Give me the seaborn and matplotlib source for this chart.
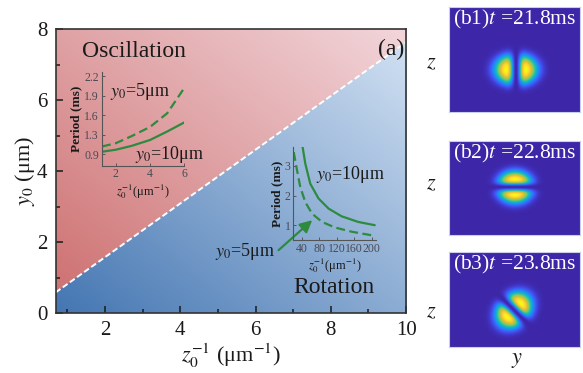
import numpy as np
import pandas as pd
import matplotlib
matplotlib.use("Agg")
import matplotlib.pyplot as plt
import seaborn as sns
from matplotlib.colors import LinearSegmentedColormap

# ---------------- data ----------------
main_xlim = [0.69, 10.0]
main_ylim = [0.0, 8.0]
boundary_x = [0.69, 10.0]
boundary_y = [0.58, 7.64]

osc_x = [1.2, 2.0, 2.93, 4.0, 5.0, 6.0]
osc_y5 = [1.12, 1.17, 1.28, 1.42, 1.63, 2.02]
osc_y10 = [1.04, 1.07, 1.13, 1.22, 1.35, 1.49]
osc_yticks = [1.0, 1.3, 1.6, 1.9, 2.2]
osc_yticklabels = ["0.9", "1.3", "1.6", "1.9", "2.2"]
osc_xticks = [2, 4, 6]

rot_x10 = [41.4, 47.5, 59, 78, 101, 131, 169, 207]
rot_y10 = [3.64, 3.08, 2.40, 1.90, 1.56, 1.30, 1.11, 1.00]
rot_x5 = [21, 28.6, 36, 47.5, 63, 86, 116, 154, 207]
rot_y5 = [3.47, 2.85, 2.29, 1.78, 1.39, 1.11, 0.92, 0.78, 0.64]
rot_xticks = [40, 80, 120, 160, 200]
rot_yticks = [1, 2, 3]

panel_titles = [r"(b1)$t$ =21.8ms", r"(b2)$t$ =22.8ms", r"(b3)$t$ =23.8ms"]
panel_angles = [0.0, 90.0, 45.0]          # dipole axis orientation (deg)
panel_a = [20.0, 15.0, 19.0]              # size along dipole axis
panel_b = [15.0, 17.0, 15.0]              # size across dipole axis
panel_node = [6.0, 5.0, 6.0]              # node width
panel_cy = [1.0, 0.0, -1.0]               # blob centre offsets
panel_cz = [-10.0, 1.0, -11.0]

# ---------------- style ----------------
sns.set_theme(style="ticks")
plt.rcParams["font.family"] = ["Liberation Serif", "DejaVu Serif"]
plt.rcParams["mathtext.fontset"] = "stix"
plt.rcParams["axes.unicode_minus"] = False

green = "#2e8b3e"
dark = "#1a1a1a"

fig = plt.figure(figsize=(5.83, 3.73), dpi=100)

# ---------------- main axes ----------------
ax = fig.add_axes([0.0955, 0.161, 0.601, 0.760])
nx, ny = 400, 340
gx = np.linspace(main_xlim[0], main_xlim[1], nx)
gy = np.linspace(main_ylim[0], main_ylim[1], ny)
GX, GY = np.meshgrid(gx, gy)
bnd = np.interp(GX, boundary_x, boundary_y)
tx = (GX - main_xlim[0]) / (main_xlim[1] - main_xlim[0])
ty = (GY - main_ylim[0]) / (main_ylim[1] - main_ylim[0])
t = np.clip(0.5 * tx + 0.5 * ty, 0, 1)[..., None]
red0 = np.array([205, 110, 110]) / 255
red1 = np.array([242, 214, 219]) / 255
blu0 = np.array([68, 118, 178]) / 255
blu1 = np.array([212, 227, 244]) / 255
redc = red0 * (1 - t) + red1 * t
bluc = blu0 * (1 - t) + blu1 * t
img = np.where((GY > bnd)[..., None], redc, bluc)
ax.imshow(img, origin="lower", extent=main_xlim + main_ylim, aspect="auto",
          interpolation="bilinear", zorder=0)

bdf = pd.DataFrame({"x": boundary_x, "y": boundary_y})
sns.lineplot(data=bdf, x="x", y="y", ax=ax, color="white", lw=1.4,
             linestyle=(0, (3, 1.5)), zorder=2)
ax.set_xlim(main_xlim)
ax.set_ylim(main_ylim)
ax.set_xticks([2, 4, 6, 8, 10])
ax.set_yticks([0, 2, 4, 6, 8])
ax.set_xticks([1, 3, 5, 7, 9], minor=True)
ax.set_yticks([1, 3, 5, 7], minor=True)
ax.tick_params(which="both", direction="in", colors=dark, labelsize=15,
               width=1.1, top=False, right=False)
ax.tick_params(which="major", length=5, pad=6)
ax.tick_params(which="minor", length=3)
for s in ax.spines.values():
    s.set_color("#333333")
    s.set_linewidth(1.2)
ax.set_xlabel(r"$z_0^{-1}$ (μm$^{-1}$)", fontsize=16, color=dark, labelpad=1)
ax.set_ylabel(r"$y_0$ (μm)", fontsize=16, color=dark, labelpad=0)

ax.text(1.39, 7.37, "Oscillation", fontsize=17, color=dark, va="center", ha="left")
ax.text(9.95, 7.43, "(a)", fontsize=17, color=dark, va="center", ha="right")
ax.text(7.01, 0.73, "Rotation", fontsize=17, color=dark, va="center", ha="left")
ax.text(2.13, 6.24, r"$y_0$=5μm", fontsize=13, color=dark, va="center", ha="left")
ax.text(2.8, 4.46, r"$y_0$=10μm", fontsize=13, color=dark, va="center", ha="left")
ax.text(7.6, 3.9, r"$y_0$=10μm", fontsize=13, color=dark, va="center", ha="left")
ax.text(4.93, 1.72, r"$y_0$=5μm", fontsize=13, color=dark, va="center", ha="left")

inset_tick = "#4a4a55"

# ---------------- inset 1 (oscillation) ----------------
a1 = fig.add_axes([0.1744, 0.5558, 0.1417, 0.252])
a1.patch.set_alpha(0)
odf = pd.DataFrame({"x": osc_x * 2, "y": osc_y5 + osc_y10,
                    "s": ["5"] * len(osc_x) + ["10"] * len(osc_x)})
sns.lineplot(data=odf, x="x", y="y", style="s", ax=a1, color=green, lw=1.6,
             dashes={"5": (4, 2), "10": ""}, legend=False)
a1.set_xlim(1.18, 6.0)
a1.set_ylim(0.825, 2.27)
a1.set_xticks(osc_xticks)
a1.set_yticks(osc_yticks)
a1.set_yticklabels(osc_yticklabels)
a1.tick_params(direction="in", length=2, width=0.6, labelsize=8.5,
               colors=inset_tick, pad=2)
a1.spines[["top", "right"]].set_visible(False)
for s in ["left", "bottom"]:
    a1.spines[s].set_color("#555555")
    a1.spines[s].set_linewidth(0.8)
a1.set_xlabel(r"$z_0^{-1}$(μm$^{-1}$)", fontsize=9, color=dark, labelpad=1)
a1.set_ylabel("Period (ms)", fontsize=9.5, fontweight="bold", color=dark, labelpad=1)

# ---------------- inset 2 (rotation) ----------------
a2 = fig.add_axes([0.5031, 0.3566, 0.1419, 0.250])
a2.patch.set_alpha(0)
rdf = pd.DataFrame({"x": rot_x5 + rot_x10, "y": rot_y5 + rot_y10,
                    "s": ["5"] * len(rot_x5) + ["10"] * len(rot_x10)})
sns.lineplot(data=rdf, x="x", y="y", style="s", ax=a2, color=green, lw=1.6,
             dashes={"5": (4, 2), "10": ""}, legend=False, sort=False)
a2.set_xlim(20, 210)
a2.set_ylim(0.5, 3.65)
a2.set_xticks(rot_xticks)
a2.set_yticks(rot_yticks)
a2.tick_params(direction="in", length=2, width=0.6, labelsize=8.5,
               colors=inset_tick, pad=2)
a2.spines[["top", "right"]].set_visible(False)
for s in ["left", "bottom"]:
    a2.spines[s].set_color("#555555")
    a2.spines[s].set_linewidth(0.8)
a2.set_xlabel(r"$z_0^{-1}$(μm$^{-1}$)", fontsize=9, color=dark, labelpad=1)
a2.set_ylabel("Period (ms)", fontsize=9.5, fontweight="bold", color=dark, labelpad=1)

ax.annotate("", xy=(63.5, 1.17), xycoords=a2.transData,
            xytext=(6.61, 1.77), textcoords="data",
            arrowprops=dict(arrowstyle="-|>,head_length=0.6,head_width=0.3",
                            color=green, lw=1.6, shrinkA=0, shrinkB=0))

# ---------------- right panels ----------------
parula = LinearSegmentedColormap.from_list("parula", [
    (0.000, (0.2422, 0.1504, 0.6603)),
    (0.125, (0.2647, 0.3030, 0.9397)),
    (0.250, (0.1540, 0.5017, 0.9811)),
    (0.375, (0.0654, 0.6585, 0.8565)),
    (0.500, (0.1385, 0.7560, 0.6710)),
    (0.625, (0.4966, 0.8035, 0.3906)),
    (0.750, (0.8208, 0.7446, 0.1928)),
    (0.875, (0.9923, 0.7961, 0.2196)),
    (1.000, (0.9763, 0.9831, 0.0538)),
])

panel_rects = [[0.770, 0.7005, 0.2247, 0.2815],
               [0.770, 0.370, 0.2247, 0.252],
               [0.770, 0.0705, 0.2247, 0.2547]]
panel_h = [105, 94, 95]
for i in range(3):
    pa = fig.add_axes(panel_rects[i])
    w, h = 131, panel_h[i]
    yy = np.linspace(-w / 2, w / 2, 262)
    zz = np.linspace(-h / 2, h / 2, 2 * h)
    Y, Z = np.meshgrid(yy, zz)
    th = np.deg2rad(panel_angles[i])
    Yc, Zc = Y - panel_cy[i], Z - panel_cz[i]
    u = Yc * np.cos(th) + Zc * np.sin(th)
    v = -Yc * np.sin(th) + Zc * np.cos(th)
    r2 = (u / panel_a[i]) ** 2 + (v / panel_b[i]) ** 2
    rho = (1 - np.exp(-(u / panel_node[i]) ** 2)) * np.exp(-r2 ** 1.5)
    rho = rho / rho.max()
    pa.imshow(rho, cmap=parula, origin="lower", extent=[-w / 2, w / 2, -h / 2, h / 2],
              aspect="auto", vmin=0, vmax=1, interpolation="bilinear")
    pa.set_xticks([])
    pa.set_yticks([])
    for s in pa.spines.values():
        s.set_color("#c8d0e8")
        s.set_linewidth(0.8)
    pa.text(0.5, 0.985, panel_titles[i], transform=pa.transAxes, ha="center",
            va="top", color="white", fontsize=15.5)

for yc in [63.3, 185, 313]:
    fig.text(431.7 / 583, 1 - yc / 373, r"$z$", fontsize=16, ha="center",
             va="center", color=dark)
fig.text(516.7 / 583, 1 - 360 / 373, r"$y$", fontsize=16, ha="center",
         va="center", color=dark)

fig.savefig("out.png", dpi=100)
